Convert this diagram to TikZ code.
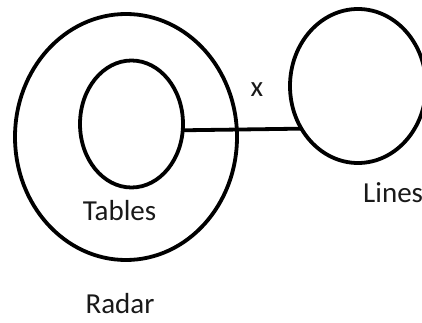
\documentclass[tikz,border=0pt]{standalone}
\usepackage{fontspec}
\setmainfont{Carlito}
\usetikzlibrary{calc, positioning}
\usetikzlibrary{shapes.geometric}

\begin{document}
\begin{tikzpicture}[x=1pt,y=-1pt,
  ring/.style={draw, ellipse, line width=3.8pt, inner sep=0pt, outer sep=0pt},
  tag/.style={font=\fontsize{29}{32}\selectfont, text=black!90, inner sep=0pt}]
\useasboundingbox (0,0) rectangle (422,323);

\coordinate (C1) at (126,137);
\coordinate (C2) at (131.5,124);
\coordinate (C3) at (358,86);

\node[ring, minimum width=222pt, minimum height=246pt] (radar) at (C1) {};
\node[ring, minimum width=103pt, minimum height=127pt] (tables) at (C2) {};
\node[ring, minimum width=136pt, minimum height=154pt] (lines) at (C3) {};

\draw[line width=3.8pt] (tables.-7.5) -- (lines.217);

\node[tag, anchor=base] (x) at (257,97) {x};
\node[tag, anchor=base] (tabtext) at (119.5,220) {Tables};
\node[tag, anchor=base west] (lintext) at (363,202) {Lines};
\node[tag, anchor=base] (radtext) at (120,313) {Radar};
\end{tikzpicture}
\end{document}
